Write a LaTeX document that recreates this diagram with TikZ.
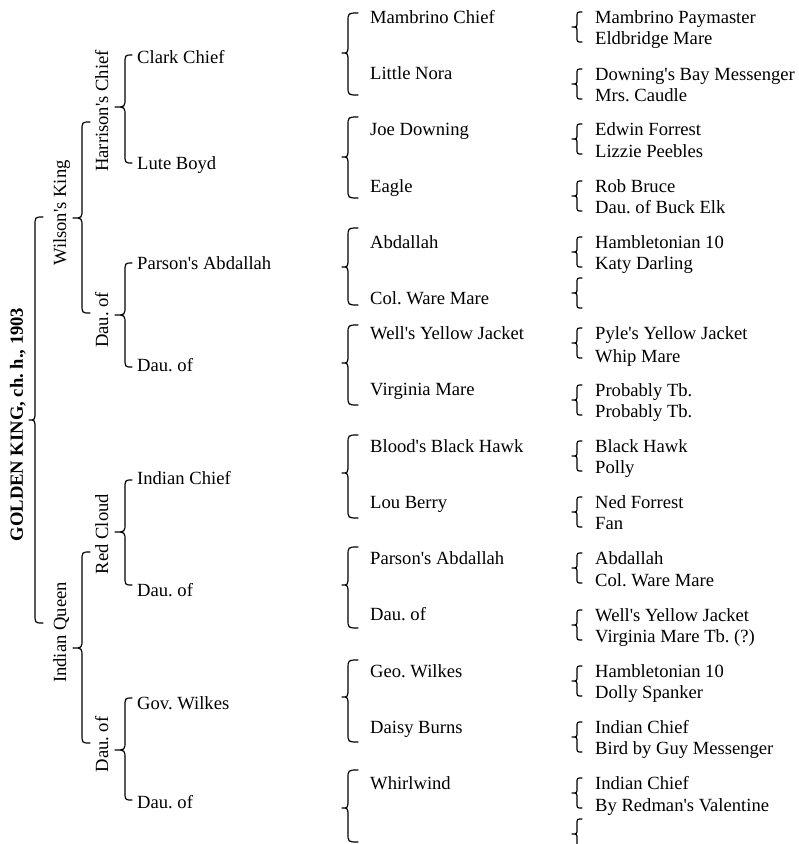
\documentclass[tikz,border=0pt]{standalone}
\usepackage{fontspec}
\newfontfamily\pfont{Liberation Serif}
\newcommand\pedbrace[7]{% #1 xv, #2 end offset, #3 tip offset, #4 top, #5 tip y, #6 bottom, #7 r
  \draw[brc] ({#1+#2},{#4}) .. controls ({#1},{#4}) .. ({#1},{#4+#7}) -- ({#1},{#5-#7})
    .. controls ({#1},{#5}) .. ({#1-#3},{#5}) .. controls ({#1},{#5}) .. ({#1},{#5+#7})
    -- ({#1},{#6-#7}) .. controls ({#1},{#6}) .. ({#1+#2},{#6});}
\tikzset{
  nm/.style={inner sep=0pt, anchor=base west, font=\pfont\frenchspacing\fontsize{18.6}{22}\selectfont},
  rt/.style={inner sep=0pt, anchor=base, rotate=90, font=\pfont\frenchspacing\fontsize{18.6}{22}\selectfont},
  brc/.style={line width=1.2pt, line cap=round, line join=round}
}
\begin{document}
\frenchspacing
\begin{tikzpicture}[x=1pt, y=-1pt]
\useasboundingbox (0,0) rectangle (799,844);
% level 0
\node[rt] (gk) at (23,424.5) {\bfseries GOLDEN KING, ch. h., 1903};
\pedbrace{35}{8}{6}{217}{420}{623}{9}
% level 1
\node[rt] (wk) at (66,213) {Wilson's King};
\node[rt] (iq) at (66,632.5) {Indian Queen};
\pedbrace{82}{8}{9}{122}{218}{313}{9}
\pedbrace{82}{8}{9}{552}{648}{743}{9}
% level 2
\node[rt] (hc) at (108,111) {Harrison's Chief};
\node[rt] (da) at (108,320) {Dau. of};
\node[rt] (rc) at (108,534) {Red Cloud};
\node[rt] (db) at (108,744.5) {Dau. of};
\pedbrace{125}{7}{10}{55}{107}{163}{9}
\pedbrace{125}{7}{10}{263}{315}{367}{9}
\pedbrace{125}{7}{10}{480}{532}{585}{9}
\pedbrace{125}{7}{10}{698}{750}{800}{9}
% level 3
\node[nm] (clark) at (137,63) {Clark Chief};
\node[nm] (lute) at (137,169) {Lute Boyd};
\node[nm] (parsa) at (137,269) {Parson's Abdallah};
\node[nm] (dauc) at (137,371) {Dau. of};
\node[nm] (indc) at (137,484) {Indian Chief};
\node[nm] (daud) at (137,596) {Dau. of};
\node[nm] (govw) at (137,709) {Gov. Wilkes};
\node[nm] (daue) at (137,808) {Dau. of};
\pedbrace{348}{10}{6}{13}{53}{95}{9}
\pedbrace{348}{10}{6}{117}{157}{198}{9}
\pedbrace{348}{10}{6}{228}{267}{305}{9}
\pedbrace{348}{10}{6}{325}{363}{405}{9}
\pedbrace{348}{10}{6}{435}{473}{518}{9}
\pedbrace{348}{10}{6}{547}{585}{628}{9}
\pedbrace{348}{10}{6}{660}{697}{742}{9}
\pedbrace{348}{10}{6}{770}{808}{842}{9}
% level 4
\foreach \b/\t [count=\i] in {23/Mambrino Chief, 79/Little Nora, 135/Joe Downing, 192/Eagle,
  248/Abdallah, 304/Col. Ware Mare, 339/Well's Yellow Jacket, 395/Virginia Mare,
  452/Blood's Black Hawk, 508/Lou Berry, 564/Parson's Abdallah, 620/Dau. of,
  677/Geo. Wilkes, 733/Daisy Burns, 789/Whirlwind}
  {\node[nm] (g\i) at (370,\b) {\t};}
% level 5
\foreach \b/\bb/\ta/\tb [count=\i] in {
  23/44/Mambrino Paymaster/Eldbridge Mare,
  80/101/Downing's Bay Messenger/Mrs. Caudle,
  135/157/Edwin Forrest/Lizzie Peebles,
  192/213/Rob Bruce/Dau. of Buck Elk,
  248/269/Hambletonian 10/Katy Darling,
  339/362/Pyle's Yellow Jacket/Whip Mare,
  396/417/Probably Tb./Probably Tb.,
  452/473/Black Hawk/Polly,
  508/529/Ned Forrest/Fan,
  564/586/Abdallah/Col. Ware Mare,
  621/642/Well's Yellow Jacket/Virginia Mare Tb. (?),
  677/698/Hambletonian 10/Dolly Spanker,
  733/754/Indian Chief/Bird by Guy Messenger,
  789/811/Indian Chief/By Redman's Valentine}
  {\node[nm] (s\i a) at (595,\b) {\ta};
   \node[nm] (s\i b) at (595,\bb) {\tb};
   \pedbrace{577}{5}{5}{\b-11}{\b+4}{\b+19}{5}}
\pedbrace{577}{5}{5}{278}{293}{308}{5}
\pedbrace{577}{5}{5}{819}{834}{849}{5}
\end{tikzpicture}
\end{document}
